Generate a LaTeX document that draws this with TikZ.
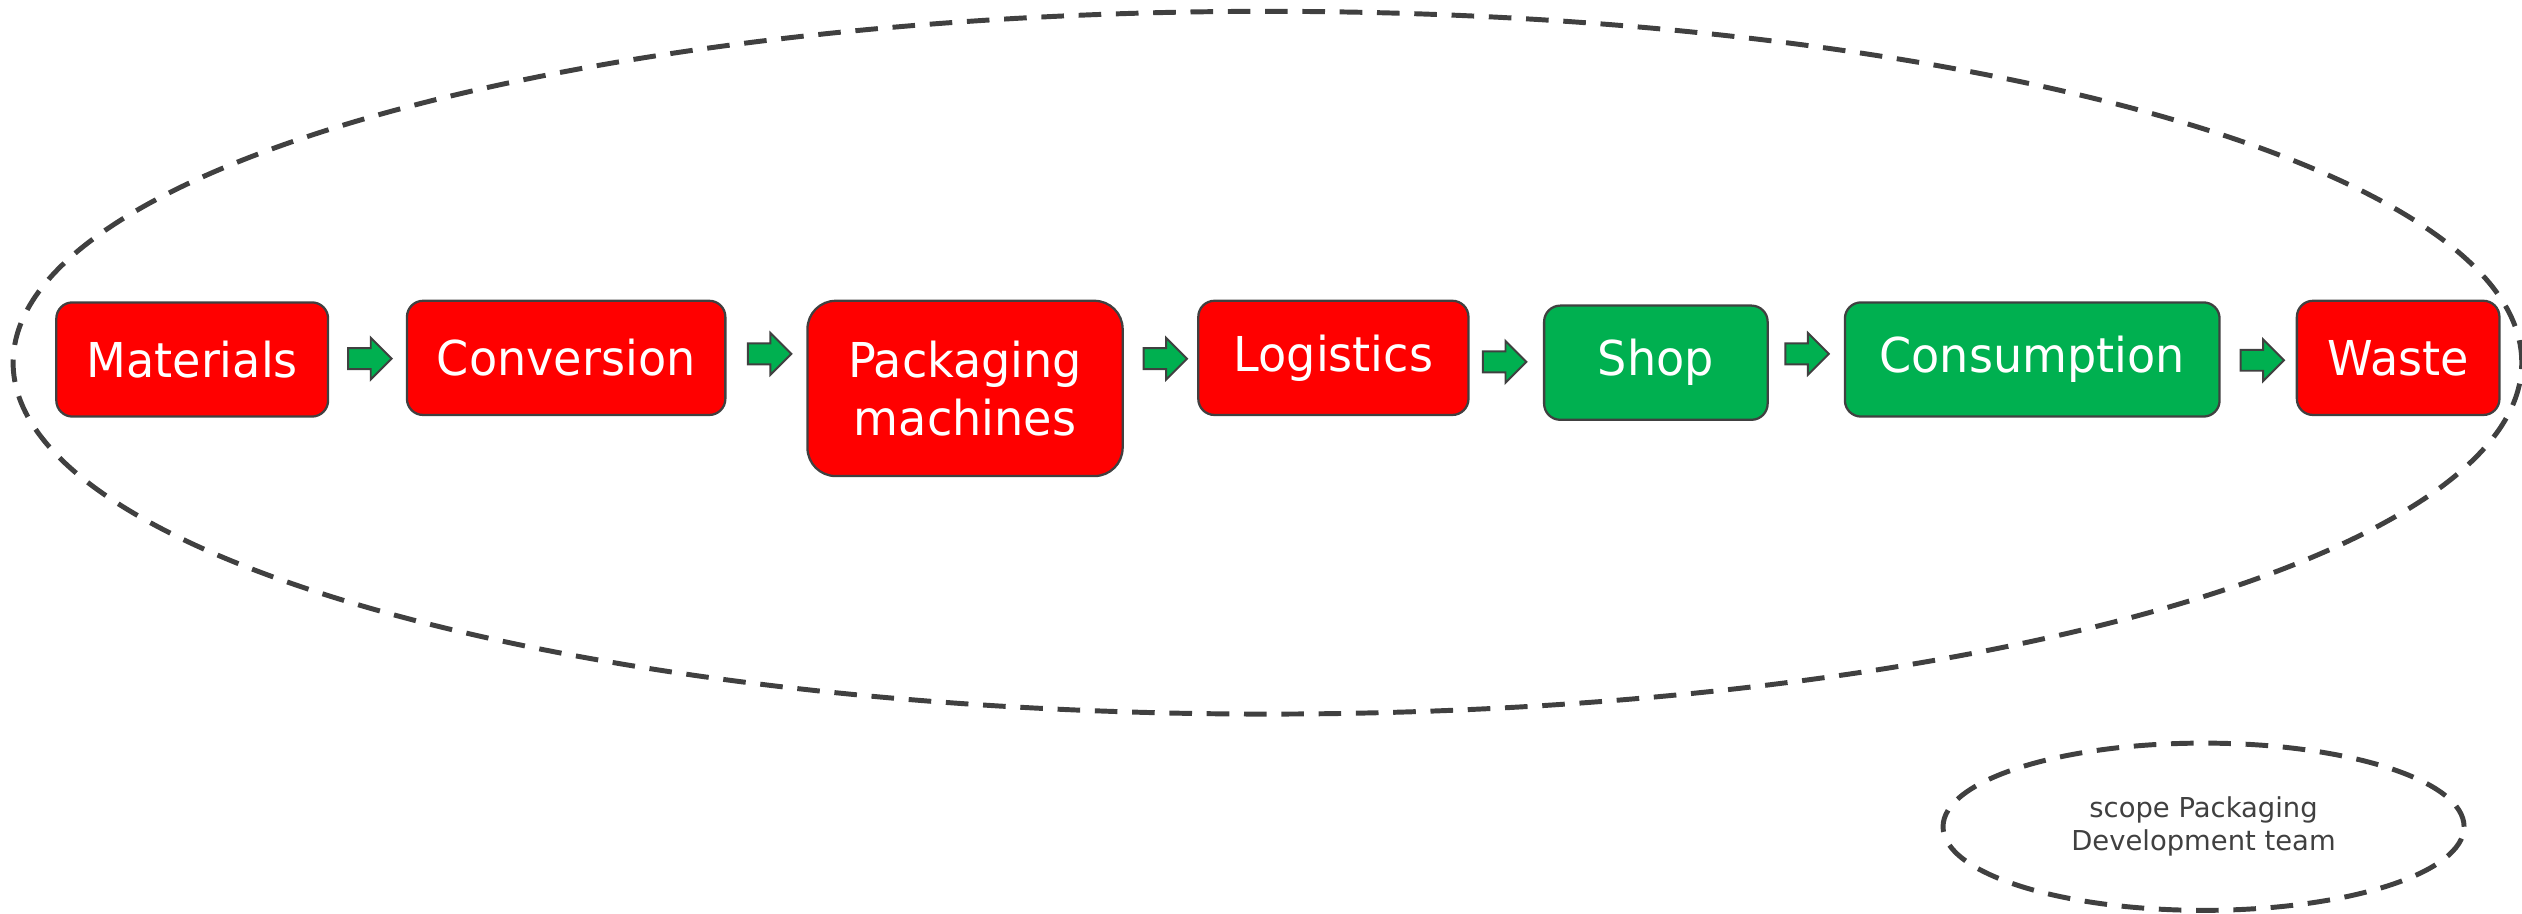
\documentclass[tikz,border=0pt]{standalone}
\usepackage{fontspec}
\setmainfont{DejaVu Sans}
\newfontfamily\boxfont[FakeStretch=0.96]{DejaVu Sans}
\usetikzlibrary{calc,shapes.geometric}
\definecolor{dgray}{HTML}{404040}
\definecolor{pred}{HTML}{FF0000}
\definecolor{pgreen}{HTML}{00B050}
\tikzset{
  stage/.style={draw=dgray, line width=0.8pt, rounded corners=5.7pt, text=white,
    font=\boxfont\fontsize{17}{20.6}\selectfont, inner sep=0pt, align=center, minimum height=1.42cm},
  redstage/.style={stage, fill=pred},
  greenstage/.style={stage, fill=pgreen},
  flow/.style={draw=dgray, line width=0.7pt, fill=pgreen, line join=miter},
  scopeline/.style={draw=dgray, line width=1.75pt, dash pattern=on 8pt off 5.2pt, ellipse, inner sep=0pt},
}
\begin{document}
\begin{tikzpicture}[x=0.02cm,y=-0.02cm]
\useasboundingbox (0,0) rectangle (1568,568);
% scope ellipses
\node[scopeline, minimum width=31.2cm, minimum height=8.74cm] (bigscope) at (788,225.5) {};
\node[scopeline, minimum width=6.48cm, minimum height=2.08cm, text=dgray,
  font=\fontsize{9.7}{11.6}\selectfont, align=center] (legend) at (1370,514)
  {scope Packaging\\Development team};
% stages
\node[redstage, minimum width=3.38cm] (mat) at (119.5,223.5) {Materials};
\node[redstage, minimum width=3.96cm] (con) at (352,222.5) {Conversion};
\node[redstage, minimum width=3.92cm, minimum height=2.18cm, rounded corners=10pt] (pack) at (600,241.5) {Packaging\\machines};
\node[redstage, minimum width=3.36cm] (log) at (829,222.5) {Logistics};
\node[greenstage, minimum width=2.78cm] (shop) at (1029.5,225.5) {Shop};
\node[greenstage, minimum width=4.66cm] (cons) at (1263.5,223.5) {Consumption};
\node[redstage, minimum width=2.52cm] (waste) at (1491,222.5) {Waste};
% block arrows between stages
\foreach \a/\b/\dy/\dx [count=\i] in {mat/con/0.5/1.5, con/pack/-2.5/2, pack/log/0.5/3, log/shop/2.5/-1, shop/cons/-2.5/0.5, cons/waste/1.5/2.5}{
  \coordinate (m\i) at ($(\a.east)!0.5!(\b.west)$);
  \draw[flow] (m\i |- log.center) ++(-13.5+\dx,-6.5+\dy) -- ++(14,0) -- ++(0,-6.5) -- ++(13,13)
    -- ++(-13,13) -- ++(0,-6.5) -- ++(-14,0) -- cycle;
}
\end{tikzpicture}
\end{document}
